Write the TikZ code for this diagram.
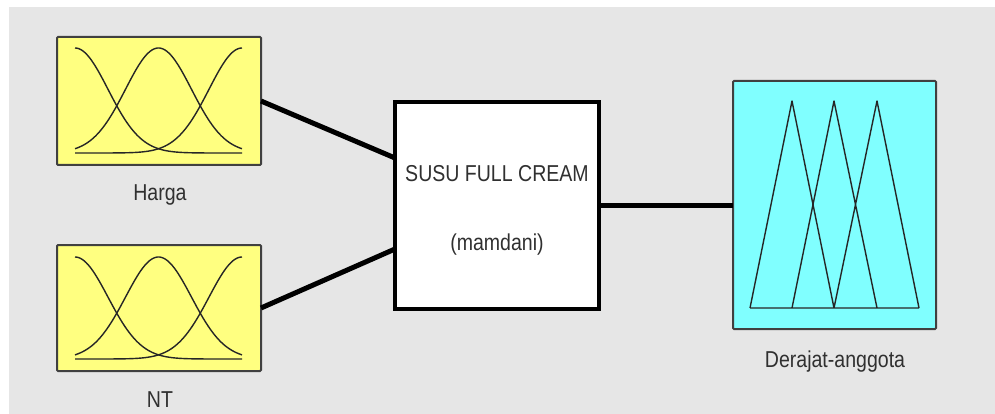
\documentclass[tikz,border=0pt]{standalone}
\usepackage{fontspec}
\newfontfamily\lblfont[FakeStretch=0.85]{Liberation Sans}
\definecolor{panelgray}{HTML}{E6E6E6}
\definecolor{mfyellow}{HTML}{FFFF80}
\definecolor{mfcyan}{HTML}{80FFFF}
\definecolor{edgegray}{HTML}{404040}
\definecolor{txtgray}{HTML}{303030}
\begin{document}
\begin{tikzpicture}[x=1pt,y=-1pt,
  varbox/.style={draw=edgegray, line width=2pt, rounded corners=1pt, inner sep=0pt, outer sep=0pt},
  inbox/.style={varbox, fill=mfyellow, minimum width=204pt},
  outbox/.style={varbox, fill=mfcyan, minimum width=203pt, minimum height=248pt},
  fisbox/.style={draw=black, fill=white, line width=4pt, inner sep=0pt, outer sep=0pt,
                 minimum width=204pt, minimum height=207pt},
  lbl/.style={font=\lblfont\fontsize{23}{26}\selectfont, text=txtgray, inner sep=0pt},
  link/.style={draw=black, line width=5pt},
  mf/.style={draw=black!85, line width=1.4pt}]
  % page and panel
  \useasboundingbox (0,0) rectangle (995,414);
  \fill[white] (0,0) rectangle (995,414);
  \fill[panelgray] (9,7) rectangle (995,414);

  % connector end points on the inference block
  \coordinate (in1) at (395,158);
  \coordinate (in2) at (395,249);

  % input and output variable blocks
  \node[inbox, minimum height=128pt] (harga) at (159,101) {};
  \node[inbox, minimum height=126pt] (nt) at (159,308) {};
  \node[outbox] (derajat) at (834.5,205) {};

  % connectors
  \draw[link] (harga.east) -- (in1);
  \draw[link] (nt.east) -- (in2);
  \draw[link] (599,205) coordinate (out1) -- (derajat.west |- out1);

  % inference block
  \node[fisbox] (fis) at (497,205.5) {};
  \node[lbl] (fisname) at (497,174) {SUSU FULL CREAM};
  \node[lbl] (fistype) at (497,245) {(mamdani)};

  % gaussian membership functions
  \foreach \c in {75,158.5,242} {
    \draw[mf] plot[domain=75:242, samples=90, smooth] (\x, {153-105*exp(-0.5*((\x-\c)/33)^2)});
    \draw[mf] plot[domain=75:242, samples=90, smooth] (\x, {359-102*exp(-0.5*((\x-\c)/33)^2)});
  }

  % triangular membership functions
  \draw[mf, line join=round] (750,308) -- (792,101) -- (834,308)
                             (792,308) -- (834,101) -- (877,308)
                             (834,308) -- (877,101) -- (919,308)
                             (750,308) -- (919,308);

  % variable names
  \node[lbl] (hargalbl) at (160,195) {Harga};
  \node[lbl] (ntlbl) at (160,400) {NT};
  \node[lbl] (derajatlbl) at (835,362) {Derajat-anggota};
\end{tikzpicture}
\end{document}
